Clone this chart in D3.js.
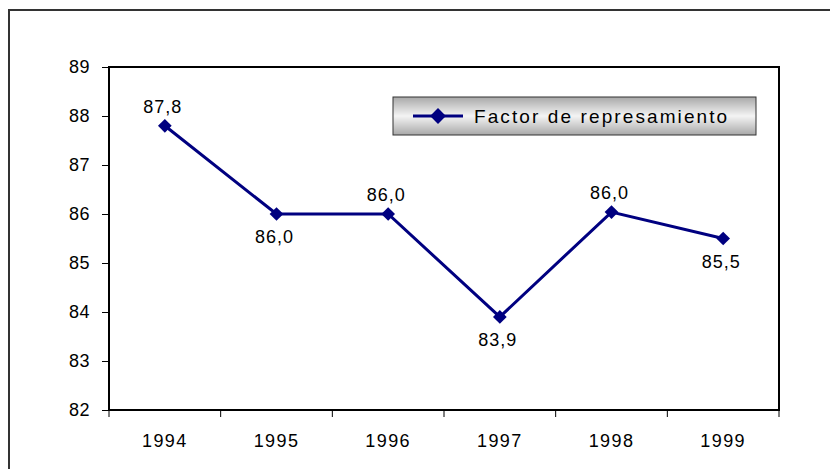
<!DOCTYPE html>
<html>
<head>
<meta charset="utf-8">
<script src="https://cdn.jsdelivr.net/npm/d3@7"></script>
<style>
  body { margin: 0; background: #fff; }
  svg { display: block; font-family: "Liberation Sans", Arial, sans-serif; }
</style>
</head>
<body>
<script>
const years = ["1994", "1995", "1996", "1997", "1998", "1999"];
const values = [87.8, 86.0, 86.0, 83.9, 86.04, 85.5];
const labels = ["87,8", "86,0", "86,0", "83,9", "86,0", "85,5"];
const labelAbove = [true, false, true, false, true, false];
const yTicks = [82, 83, 84, 85, 86, 87, 88, 89];
const seriesName = "Factor de represamiento";

const w = 830, h = 469;
const plot = { left: 109, right: 779, top: 67, bottom: 410 };

const svg = d3.select("body").append("svg")
  .attr("width", w)
  .attr("height", h);

// outer chart border
svg.append("rect")
  .attr("x", 9).attr("y", 10)
  .attr("width", 840).attr("height", 480)
  .attr("fill", "none")
  .attr("stroke", "#333")
  .attr("stroke-width", 2);

const x = d3.scaleBand().domain(years).range([plot.left, plot.right]);
const y = d3.scaleLinear().domain([82, 89]).range([plot.bottom, plot.top]);

// plot area frame
svg.append("rect")
  .attr("x", plot.left).attr("y", plot.top)
  .attr("width", plot.right - plot.left)
  .attr("height", plot.bottom - plot.top)
  .attr("fill", "none")
  .attr("stroke", "#000")
  .attr("stroke-width", 2);

const yAxis = d3.axisLeft(y).tickValues(yTicks).tickFormat(d3.format("d")).tickSize(7).tickPadding(12);
svg.append("g")
  .attr("transform", "translate(" + plot.left + ",0)")
  .call(yAxis)
  .call(g => g.select(".domain").remove())
  .call(g => g.selectAll("text")
    .attr("font-size", 18).attr("letter-spacing", 0.5)
    .attr("fill", "#000").attr("font-family", "Liberation Sans, Arial, sans-serif"));

// x axis: ticks between categories
const xEdges = years.map(d => x(d)).concat([plot.right]);
svg.append("g").selectAll("line")
  .data(xEdges)
  .enter().append("line")
  .attr("x1", d => d).attr("x2", d => d)
  .attr("y1", plot.bottom).attr("y2", plot.bottom + 7)
  .attr("stroke", "#000");

svg.append("g").selectAll("text")
  .data(years)
  .enter().append("text")
  .attr("x", d => x(d) + x.bandwidth() / 2)
  .attr("y", plot.bottom + 37)
  .attr("text-anchor", "middle")
  .attr("font-size", 18)
  .attr("letter-spacing", 1.4)
  .text(d => d);

const pts = years.map((d, i) => ({ x: x(d) + x.bandwidth() / 2, y: y(values[i]), i }));

svg.append("path")
  .datum(pts)
  .attr("d", d3.line().x(d => d.x).y(d => d.y))
  .attr("fill", "none")
  .attr("stroke", "#000080")
  .attr("stroke-width", 3);

const diamond = d3.symbol().type(d3.symbolDiamond2).size(120);
svg.append("g").selectAll("path")
  .data(pts)
  .enter().append("path")
  .attr("transform", d => "translate(" + d.x + "," + d.y + ")")
  .attr("d", diamond)
  .attr("fill", "#000080");

svg.append("g").selectAll("text")
  .data(pts)
  .enter().append("text")
  .attr("x", d => d.x - 2)
  .attr("y", d => labelAbove[d.i] ? d.y - 13 : d.y + 29)
  .attr("text-anchor", "middle")
  .attr("font-size", 18)
  .attr("letter-spacing", 1)
  .text(d => labels[d.i]);

// legend
const defs = svg.append("defs");
const grad = defs.append("linearGradient")
  .attr("id", "legGrad").attr("x1", 0).attr("y1", 0).attr("x2", 0).attr("y2", 1);
grad.append("stop").attr("offset", "0%").attr("stop-color", "#a8a8a8");
grad.append("stop").attr("offset", "50%").attr("stop-color", "#f4f4f4");
grad.append("stop").attr("offset", "100%").attr("stop-color", "#a8a8a8");

const leg = svg.append("g").attr("transform", "translate(393,97)");
leg.append("rect")
  .attr("width", 363).attr("height", 38)
  .attr("fill", "url(#legGrad)")
  .attr("stroke", "#333")
  .attr("stroke-width", 1);
leg.append("line")
  .attr("x1", 20).attr("x2", 70)
  .attr("y1", 19).attr("y2", 19)
  .attr("stroke", "#000080").attr("stroke-width", 3);
leg.append("path")
  .attr("transform", "translate(45,19)")
  .attr("d", d3.symbol().type(d3.symbolDiamond2).size(160))
  .attr("fill", "#000080");
leg.append("text")
  .attr("x", 81).attr("y", 26)
  .attr("font-size", 19)
  .attr("letter-spacing", 2.1)
  .text(seriesName);
</script>
</body>
</html>
